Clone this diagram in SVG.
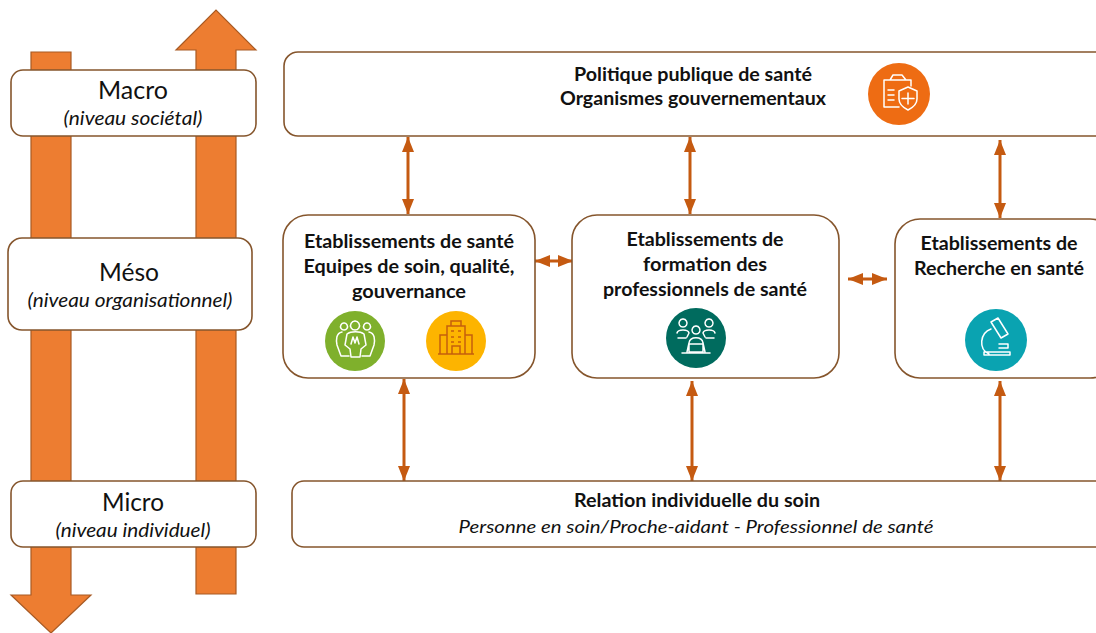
<svg xmlns="http://www.w3.org/2000/svg" width="1096" height="633" viewBox="0 0 1096 633">
<style>
text{font-family:Lato,"Open Sans","Liberation Sans",sans-serif;fill:#111;text-anchor:middle}
.b{font-size:18px;font-weight:700}
.t{font-size:25px}
.i{font-size:19px;font-style:italic}
.i2{font-size:18px;font-style:italic}
.box{fill:#fff;stroke:#85552c;stroke-width:1.600}
.big{fill:#ed7d31;stroke:#a85a24;stroke-width:1.200}
.c{stroke:#c55a11;stroke-width:3;fill:none;marker-start:url(#h);marker-end:url(#h)}
.w{fill:none;stroke:#fff;stroke-width:1.500;stroke-linejoin:round;stroke-linecap:round}
</style>
<defs>
<marker id="h" markerUnits="userSpaceOnUse" markerWidth="16" markerHeight="14" refX="15" refY="6" orient="auto-start-reverse"><path d="M0 0L15 6L0 12Z" fill="#c55a11"/></marker>
</defs>
<g id="arrow-down"><path class="big" d="M31 52H71V595H91L51 633L11 595H31Z"/></g>
<g id="arrow-up"><path class="big" d="M196 594V50H176L216 10L256 50H236V594Z"/></g>
<g id="connectors">
<path class="c" d="M408 137V214"/>
<path class="c" d="M690 137V214"/>
<path class="c" d="M1000 140V218"/>
<path class="c" d="M404 379V481"/>
<path class="c" d="M692 381V481"/>
<path class="c" d="M1000 381V481"/>
<path class="c" d="M535 261H573"/>
<path class="c" d="M848 279H887"/>
</g>
<g id="macro"><rect class="box" x="11" y="70" width="245" height="66" rx="12"/>
<text class="t" x="133" y="99" textLength="70" lengthAdjust="spacingAndGlyphs">Macro</text>
<text class="i" x="133" y="125" textLength="139" lengthAdjust="spacingAndGlyphs">(niveau sociétal)</text></g>
<g id="meso"><rect class="box" x="8" y="238" width="244" height="92" rx="14"/>
<text class="t" x="129" y="281" textLength="60" lengthAdjust="spacingAndGlyphs">Méso</text>
<text class="i" x="130" y="307" textLength="205" lengthAdjust="spacingAndGlyphs">(niveau organisationnel)</text></g>
<g id="micro"><rect class="box" x="11" y="481" width="245" height="66" rx="12"/>
<text class="t" x="133" y="511" textLength="62" lengthAdjust="spacingAndGlyphs">Micro</text>
<text class="i" x="133" y="537" textLength="155" lengthAdjust="spacingAndGlyphs">(niveau individuel)</text></g>
<g id="politique"><rect class="box" x="284" y="52" width="830" height="84" rx="14"/>
<text class="b" x="693" y="81" textLength="238" lengthAdjust="spacingAndGlyphs">Politique publique de santé</text>
<text class="b" x="693" y="105" textLength="266" lengthAdjust="spacingAndGlyphs">Organismes gouvernementaux</text>
<circle cx="899" cy="94" r="31" fill="#ee6c13"/>
<path class="w" d="M884 80V107H899M884 80H890M906 80H911V86M890 80L893 75H902L906 80ZM888 90H894M888 95H894M888 100H894M899 91L908 87L917 91V99C917 104 912 108 908 110C904 108 899 104 899 99ZM908 93V104M902 98.500H914"/></g>
<g id="sante"><rect class="box" x="283" y="215" width="252" height="163" rx="25"/>
<text class="b" x="409" y="248" textLength="210" lengthAdjust="spacingAndGlyphs">Etablissements de santé</text>
<text class="b" x="409" y="273" textLength="211" lengthAdjust="spacingAndGlyphs">Equipes de soin, qualité,</text>
<text class="b" x="409" y="298" textLength="114" lengthAdjust="spacingAndGlyphs">gouvernance</text>
<circle cx="355" cy="341" r="30" fill="#7fb02c"/>
<path class="w" d="M344 323a3.500 3.500 0 1 0 .01 0M355 321a4.500 4.500 0 1 0 .01 0M367 323a3.500 3.500 0 1 0 .01 0M347 334C351 331 360 331 364 334L366 345L361 349L360 357H351L350 349L345 345ZM342 332C336 333 336 340 337 345L341 356H349M369 332C375 333 375 340 374 345L370 356H362M351 344L353 337L355 343L357 337L359 344"/>
<circle cx="456" cy="341" r="30" fill="#fdb400"/>
<path d="M447 354V326H465V354M451 326V321H461V326M440 354V335H447M465 335H472V354M438 354H474M452 354V346H460V354M451 331H454M458 331H461M451 337H454M458 337H461M451 342H454M458 342H461" fill="none" stroke="#c55f0c" stroke-width="1.500"/></g>
<g id="formation"><rect class="box" x="572" y="215" width="267" height="163" rx="25"/>
<text class="b" x="705" y="246" textLength="157" lengthAdjust="spacingAndGlyphs">Etablissements de</text>
<text class="b" x="705" y="271" textLength="124" lengthAdjust="spacingAndGlyphs">formation des</text>
<text class="b" x="705" y="296" textLength="204" lengthAdjust="spacingAndGlyphs">professionnels de santé</text>
<circle cx="696" cy="338" r="30" fill="#006b5e"/>
<path class="w" d="M683 319a4 4 0 1 0 .01 0M709 319a4 4 0 1 0 .01 0M696 326a4 4 0 1 0 .01 0M677 333C678 329 688 329 689 333L687 337M715 333C714 329 704 329 703 333L705 337M678 338H686M706 338H714M689 343C690 336 702 336 703 343L705 352M689 343L687 352M689 344H703V352H689ZM682 353H710"/></g>
<g id="recherche"><rect class="box" x="895" y="219" width="220" height="159" rx="25"/>
<text class="b" x="999" y="250" textLength="157" lengthAdjust="spacingAndGlyphs">Etablissements de</text>
<text class="b" x="999" y="275" textLength="170" lengthAdjust="spacingAndGlyphs">Recherche en santé</text>
<circle cx="996" cy="340" r="31" fill="#0aa3b1"/>
<path class="w" d="M991 322L998 318L1008 334L1001 338ZM991 329C980 333 978 349 989 354M999 344H1008V348H999M984 352H1010V355H984Z"/></g>
<g id="relation"><rect class="box" x="292" y="481" width="822" height="66" rx="12"/>
<text class="b" x="697" y="507" textLength="246" lengthAdjust="spacingAndGlyphs">Relation individuelle du soin</text>
<text class="i2" x="696" y="533" textLength="475" lengthAdjust="spacingAndGlyphs">Personne en soin/Proche-aidant - Professionnel de santé</text></g>
</svg>
